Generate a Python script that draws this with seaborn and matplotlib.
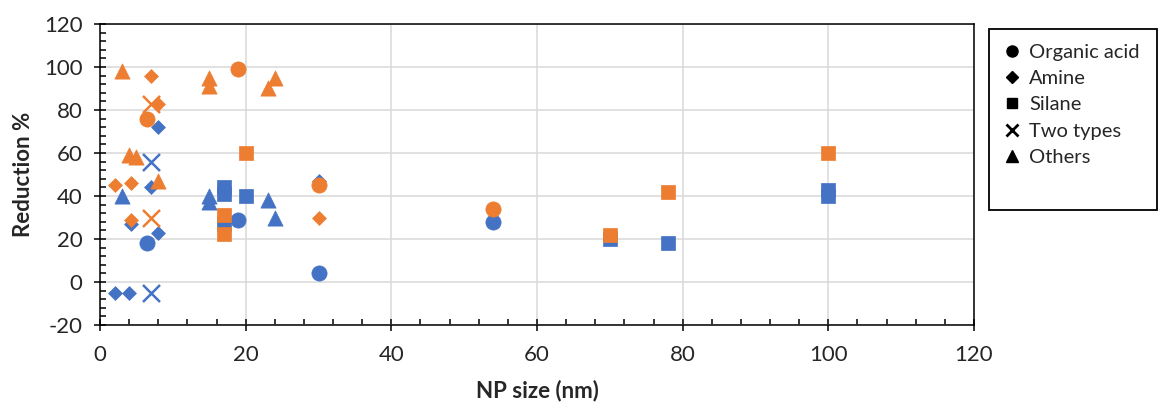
import matplotlib
matplotlib.use("Agg")
import matplotlib.pyplot as plt
import seaborn as sns
import pandas as pd
from matplotlib.lines import Line2D
from matplotlib.patches import Rectangle
from matplotlib.ticker import MultipleLocator

# ---------------- data ----------------
types = ["Organic acid", "Amine", "Silane", "Two types", "Others"]

blue_organic_x = [6.4, 19, 30, 54]
blue_organic_y = [18, 29, 4, 28]
blue_amine_x = [2, 4, 4.3, 7, 8, 8, 30]
blue_amine_y = [-5, -5, 27, 44, 23, 72, 47]
blue_silane_x = [17, 17, 17, 20, 70, 78, 100, 100]
blue_silane_y = [44, 41, 27, 40, 20, 18, 43, 40]
blue_two_x = [7, 7]
blue_two_y = [56, -5]
blue_others_x = [3, 15, 15, 23, 24]
blue_others_y = [40, 40, 37, 38, 30]

orange_organic_x = [6.5, 19, 30, 54]
orange_organic_y = [76, 99, 45, 34]
orange_amine_x = [2, 4.3, 4.2, 7, 8, 30]
orange_amine_y = [45, 46, 29, 96, 83, 30]
orange_silane_x = [17, 17, 20, 70, 78, 100]
orange_silane_y = [31, 22.5, 60, 22, 42, 60]
orange_two_x = [7, 7]
orange_two_y = [83, 30]
orange_others_x = [3, 4, 5, 8, 15, 15, 23, 24]
orange_others_y = [98, 59, 58, 47, 95, 91, 90, 95]

x_ticks = [0, 20, 40, 60, 80, 100, 120]
y_ticks = [-20, 0, 20, 40, 60, 80, 100, 120]

series_data = {
    "blue": [(blue_organic_x, blue_organic_y), (blue_amine_x, blue_amine_y),
             (blue_silane_x, blue_silane_y), (blue_two_x, blue_two_y),
             (blue_others_x, blue_others_y)],
    "orange": [(orange_organic_x, orange_organic_y), (orange_amine_x, orange_amine_y),
               (orange_silane_x, orange_silane_y), (orange_two_x, orange_two_y),
               (orange_others_x, orange_others_y)],
}

rows = []
for series, lst in series_data.items():
    for t, (xs, ys) in zip(types, lst):
        for xv, yv in zip(xs, ys):
            rows.append({"series": series, "type": t, "size": xv, "reduction": yv})
df = pd.DataFrame(rows)

# ---------------- style ----------------
sns.set_style("white")
plt.rcParams["font.family"] = ["Lato", "DejaVu Sans"]
plt.rcParams["axes.unicode_minus"] = False

colors = {"blue": "#4472C4", "orange": "#ED7D31"}
markers = {"Organic acid": "o", "Amine": "D", "Silane": "s", "Two types": "x", "Others": "^"}
sizes = {"Organic acid": 120, "Amine": 50, "Silane": 115, "Two types": 150, "Others": 120}

fig = plt.figure(figsize=(11.63, 4.03), dpi=100)
ax = fig.add_axes([100 / 1163, 1 - 325 / 403, 874 / 1163, 301 / 403])

for series in ["blue", "orange"]:
    for t in types:
        sub = df[(df["series"] == series) & (df["type"] == t)]
        c = colors[series]
        if markers[t] == "x":
            sns.scatterplot(data=sub, x="size", y="reduction", marker="x", s=sizes[t],
                            color=c, linewidth=1.8, ax=ax, legend=False, zorder=3)
        else:
            sns.scatterplot(data=sub, x="size", y="reduction", marker=markers[t], s=sizes[t],
                            color=c, edgecolor=c, linewidth=0.5, ax=ax, legend=False, zorder=3)

ax.set_xlim(0, 120)
ax.set_ylim(-20, 120)
ax.set_xticks(x_ticks)
ax.set_yticks(y_ticks)
ax.xaxis.set_minor_locator(MultipleLocator(4))
ax.yaxis.set_minor_locator(MultipleLocator(4))
ax.grid(True, which="major", color="#D9D9D9", linewidth=1.1)
ax.set_axisbelow(True)

for sp in ax.spines.values():
    sp.set_visible(True)
    sp.set_color("black")
    sp.set_linewidth(1.1)

ax.tick_params(which="major", direction="inout", length=9, width=1.1, color="black",
               bottom=True, left=True, top=False, right=False, labelsize=16)
ax.tick_params(axis="x", which="major", pad=10)
ax.tick_params(axis="y", which="major", pad=8)
ax.tick_params(which="minor", direction="in", length=4, width=1.1, color="black",
               bottom=True, left=True, top=False, right=False)

ax.set_xlabel("NP size (nm)", fontsize=16, fontweight="bold", labelpad=10.5)
ax.set_ylabel("Reduction %", fontsize=16, fontweight="bold", labelpad=7)

# legend (shape only, black)
handles = [
    Line2D([], [], linestyle="none", marker="o", markersize=8, color="black"),
    Line2D([], [], linestyle="none", marker="D", markersize=6.5, color="black"),
    Line2D([], [], linestyle="none", marker="s", markersize=7.5, color="black"),
    Line2D([], [], linestyle="none", marker="x", markersize=8, markeredgewidth=2, color="black"),
    Line2D([], [], linestyle="none", marker="^", markersize=8.5, color="black"),
]
fig.legend(handles, types, loc="upper left", bbox_to_anchor=(1006 / 1163, 1 - 44 / 403),
           frameon=False, fontsize=14.5, handlelength=0.6, handletextpad=0.55,
           labelspacing=0.45, borderpad=0, borderaxespad=0)
fig.add_artist(Rectangle((989 / 1163, 1 - 210 / 403), 168 / 1163, 181 / 403,
                         transform=fig.transFigure, fill=False, edgecolor="black", linewidth=1.3))

fig.savefig("out.png", dpi=100)
